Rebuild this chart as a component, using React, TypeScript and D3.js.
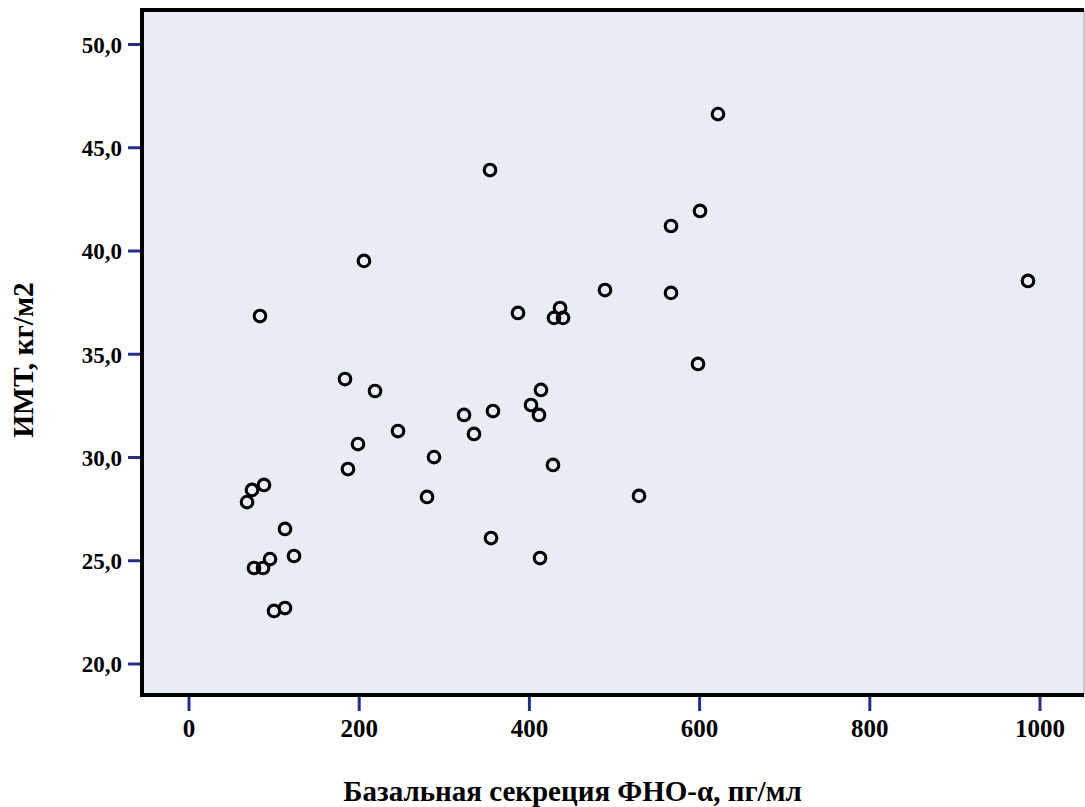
import React from "react";
import * as d3 from "d3";

// Basal TNF-alpha secretion (pg/ml) vs. BMI (kg/m2)
const secretion = [
  621.6, 353.7, 600.5, 566.4, 205.6, 985.9, 488.8, 566.4, 386.6, 83.4,
  436.0, 428.9, 439.5, 598.1, 183.3, 218.6, 413.6, 401.9, 411.3, 323.2,
  357.2, 334.9, 245.6, 198.6, 287.9, 186.8, 427.7, 74.0, 88.1, 68.2,
  279.7, 528.8, 112.8, 354.9, 123.4, 95.2, 412.5, 76.4, 87.0, 112.8, 99.9,
];
const bmi = [
  46.63, 43.92, 41.94, 41.21, 39.52, 38.55, 38.11, 37.97, 37.0, 36.85,
  37.24, 36.76, 36.76, 34.53, 33.8, 33.22, 33.27, 32.54, 32.06, 32.06,
  32.25, 31.14, 31.28, 30.65, 30.02, 29.44, 29.64, 28.43, 28.67, 27.84,
  28.09, 28.14, 26.54, 26.1, 25.23, 25.08, 25.13, 24.65, 24.65, 22.71, 22.57,
];
const xTicks = [0, 200, 400, 600, 800, 1000];
const yTicks = [20, 25, 30, 35, 40, 45, 50];
const xTitle = "Базальная секреция ФНО-α, пг/мл";
const yTitle = "ИМТ, кг/м2";

const W = 1085;
const H = 807;
const frame = { left: 142, right: 1084, top: 10, bottom: 695 };
const tickColor = "#22308a";
const serif = "Liberation Serif, Tinos, Times New Roman, DejaVu Serif, serif";
const textStyle = (size: number): React.CSSProperties => ({
  fontFamily: serif,
  fontWeight: 700,
  fontSize: `${size}px`,
});

export default function App() {
  const x = d3.scaleLinear().domain([0, 1000]).range([189, 1040]);
  const y = d3.scaleLinear().domain([20, 50]).range([664, 44.5]);
  const fmt = (v: number) => d3.format(".1f")(v).replace(".", ",");

  return (
    <svg
      width={W}
      height={H}
      style={{ position: "absolute", left: 0, top: 0, background: "#fff" }}
    >
      <rect
        x={frame.left}
        y={frame.top}
        width={frame.right - frame.left}
        height={frame.bottom - frame.top}
        fill="#e9ecf5"
      />
      <line x1={frame.right} x2={frame.right} y1={frame.top} y2={frame.bottom} stroke="#b8b8b8" strokeWidth={1.5} />
      <path
        d={`M${frame.right},${frame.top} H${frame.left} V${frame.bottom} H${frame.right}`}
        fill="none"
        stroke="#000"
        strokeWidth={4}
      />

      {/* y axis ticks */}
      {yTicks.map((t) => (
        <g key={`y${t}`}>
          <line x1={128} x2={frame.left - 2} y1={y(t)} y2={y(t)} stroke={tickColor} strokeWidth={3} />
          <text x={122} y={y(t)} dy="0.36em" textAnchor="end" style={textStyle(23)} fill="#000">
            {fmt(t)}
          </text>
        </g>
      ))}

      {/* x axis ticks */}
      {xTicks.map((t) => (
        <g key={`x${t}`}>
          <line x1={x(t)} x2={x(t)} y1={frame.bottom + 2} y2={711} stroke={tickColor} strokeWidth={3} />
          <text x={x(t)} y={737} textAnchor="middle" style={textStyle(25)} fill="#000">
            {t}
          </text>
        </g>
      ))}

      {/* data points */}
      {secretion.map((v, i) => (
        <circle
          key={i}
          cx={x(v)}
          cy={y(bmi[i])}
          r={5.8}
          fill="none"
          stroke="#000"
          strokeWidth={3.1}
        />
      ))}

      <text x={(345 + 800) / 2} y={801} textAnchor="middle" style={textStyle(29)} fill="#000">
        {xTitle}
      </text>
      <text transform="translate(33,360) rotate(-90)" textAnchor="middle" style={textStyle(29.5)} fill="#000">
        {yTitle}
      </text>
    </svg>
  );
}
